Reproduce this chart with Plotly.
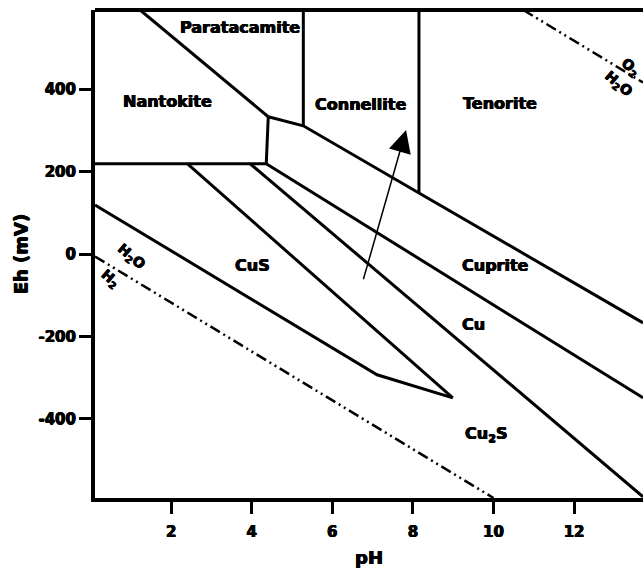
import plotly.graph_objects as go

# Stability-field boundaries of the Cu system (pH, Eh in mV)
nantokite_top_ph = [1.23, 4.41]
nantokite_top_eh = [592, 333]
nantokite_right_ph = [4.41, 4.36]
nantokite_right_eh = [333, 219]
nantokite_bottom_ph = [0.11, 4.36]
nantokite_bottom_eh = [219, 219]
paratacamite_right_ph = [5.28, 5.28]
paratacamite_right_eh = [311, 592]
tenorite_left_ph = [8.15, 8.15]
tenorite_left_eh = [148, 592]
cuprite_top_ph = [4.41, 5.28, 8.15, 13.71]
cuprite_top_eh = [333, 311, 148, -167]
cuprite_cu_ph = [4.36, 13.71]
cuprite_cu_eh = [219, -349]
cu_cu2s_ph = [3.96, 13.71]
cu_cu2s_eh = [219, -589]
cus_upper_ph = [2.40, 8.99]
cus_upper_eh = [219, -349]
cus_lower_ph = [0.11, 7.11, 8.99]
cus_lower_eh = [119, -293, -349]

# Water stability limits
h2_ph = [0.11, 10.0]
h2_eh = [-6, -592]
o2_ph = [10.74, 13.71]
o2_eh = [592, 416]

# Field names and where they sit
field_names = ["Paratacamite", "Nantokite", "Connellite", "Tenorite",
               "Cuprite", "Cu", "Cu<sub>2</sub>S", "CuS"]
field_ph = [3.71, 1.91, 6.71, 10.16, 10.06, 9.50, 9.82, 4.01]
field_eh = [549, 370, 363, 364, -27, -172, -437, -29]

water_names = ["H<sub>2</sub>O", "H<sub>2</sub>", "O<sub>2</sub>", "H<sub>2</sub>O"]
water_ph = [1.01, 0.49, 13.41, 13.09]
water_eh = [-7, -60, 452, 412]

# Trend arrow (tail -> head)
arrow_ph = [6.76, 7.83]
arrow_eh = [-65, 301]

x_ticks = [2, 4, 6, 8, 10, 12]
y_ticks = [-400, -200, 0, 200, 400]
y_tick_text = ["-400", "-200", "0", "200", "400"]

FONT = "DejaVu Sans"
HEAVY = "0.5px 0 0 black, -0.5px 0 0 black, 0 0.4px 0 black"

fig = go.Figure()

solid = [
    (nantokite_top_ph, nantokite_top_eh),
    (nantokite_right_ph, nantokite_right_eh),
    (nantokite_bottom_ph, nantokite_bottom_eh),
    (paratacamite_right_ph, paratacamite_right_eh),
    (tenorite_left_ph, tenorite_left_eh),
    (cuprite_top_ph, cuprite_top_eh),
    (cuprite_cu_ph, cuprite_cu_eh),
    (cu_cu2s_ph, cu_cu2s_eh),
    (cus_upper_ph, cus_upper_eh),
    (cus_lower_ph, cus_lower_eh),
]
for xs, ys in solid:
    fig.add_trace(go.Scatter(x=xs, y=ys, mode="lines",
                             line=dict(color="black", width=3),
                             hoverinfo="skip", showlegend=False))

for xs, ys in [(h2_ph, h2_eh), (o2_ph, o2_eh)]:
    fig.add_trace(go.Scatter(x=xs, y=ys, mode="lines",
                             line=dict(color="black", width=2.5,
                                       dash="11px,4px,2px,4px,2px,4px"),
                             hoverinfo="skip", showlegend=False))

for name, x, y in zip(field_names, field_ph, field_eh):
    fig.add_annotation(x=x, y=y, text=name, showarrow=False,
                       font=dict(family=FONT, size=16, color="black",
                                 weight="bold", shadow=HEAVY))

for name, x, y in zip(water_names, water_ph, water_eh):
    fig.add_annotation(x=x, y=y, text=name, showarrow=False, textangle=40,
                       font=dict(family=FONT, size=14, color="black",
                                 weight="bold", shadow=HEAVY))

fig.add_annotation(x=arrow_ph[1], y=arrow_eh[1], ax=arrow_ph[0], ay=arrow_eh[0],
                   axref="x", ayref="y", text="", showarrow=True,
                   arrowhead=2, arrowsize=3, arrowwidth=1.5, arrowcolor="black",
                   standoff=0)

# frame line along the top of the plotting area
fig.add_shape(type="line", xref="paper", yref="paper", x0=0, x1=1, y0=1, y1=1,
              line=dict(color="black", width=4))

tick_font = dict(family=FONT, size=15, color="black", weight="bold", shadow=HEAVY)
title_font = dict(family=FONT, size=18, color="black", weight="bold", shadow=HEAVY)

axis_common = dict(
    showgrid=False, zeroline=False, showline=True, linecolor="black", linewidth=4,
    ticks="outside", ticklen=12, tickwidth=3, tickcolor="black",
    tickfont=tick_font,
)

fig.update_xaxes(range=[0.11, 13.71], tickvals=x_ticks, ticklabelstandoff=5,
                 title=dict(text="pH", standoff=12, font=title_font),
                 **axis_common)
fig.update_yaxes(range=[-592, 592], tickvals=y_ticks, ticktext=y_tick_text,
                 title=dict(text="Eh (mV)", standoff=7, font=title_font),
                 **axis_common)

fig.update_layout(
    width=643, height=569,
    margin=dict(l=95, r=0, t=10, b=71),
    plot_bgcolor="white", paper_bgcolor="white",
    showlegend=False,
)

fig.write_html("out.html")
